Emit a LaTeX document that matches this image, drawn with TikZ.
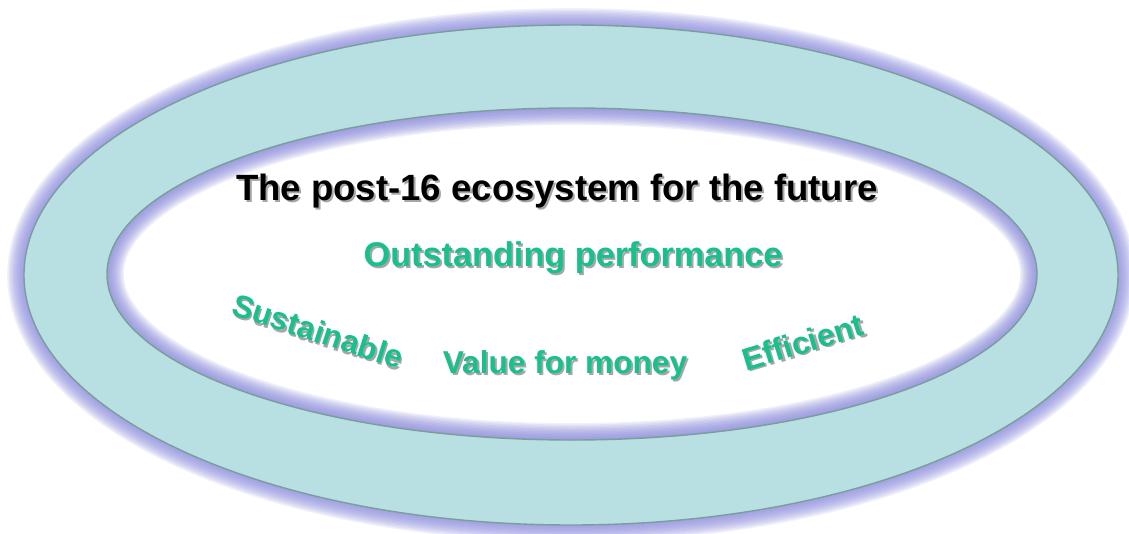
\documentclass[tikz,border=0pt]{standalone}
\usepackage{fontspec}
\setmainfont{Liberation Sans}
\usetikzlibrary{positioning}

\definecolor{ringfill}{HTML}{B8DFE2}
\definecolor{ringline}{HTML}{7A9E9A}
\definecolor{glow}{HTML}{8A8ADC}
\definecolor{aimgreen}{HTML}{17C08D}

\newcommand{\shtext}[1]{\makebox[0pt][l]{\hspace{1.1pt}\raisebox{-1.1pt}{\color{black!35}#1}}#1}

\tikzset{
  title/.style={font=\bfseries\fontsize{20.8}{24}\selectfont, text=black, inner sep=0pt},
  aim/.style={font=\bfseries\fontsize{18}{21}\selectfont, text=aimgreen, inner sep=0pt},
}

\begin{document}
\begin{tikzpicture}[x=0.02cm, y=-0.02cm]
\useasboundingbox (0,0) rectangle (1129,534);

\foreach \w in {1,...,12}
  \draw [glow, opacity=0.12, line width=\w*1.6] (571,275) ellipse [x radius=547, y radius=250];
\fill [ringfill] (571,275) ellipse [x radius=547, y radius=250];
\fill [white] (572,274) ellipse [x radius=465, y radius=166];

\begin{scope}
  \clip (572,274) ellipse [x radius=465, y radius=166];
  \foreach \w in {1,...,12}
    \draw [glow, opacity=0.12, line width=\w*1.6] (572,274) ellipse [x radius=465, y radius=166];
\end{scope}

\draw [ringline, line width=0.8pt] (571,275) ellipse [x radius=547, y radius=250];
\draw [ringline, line width=0.8pt] (572,274) ellipse [x radius=465, y radius=166];

\node [title] (ecosystem) at (557,192) {\shtext{The post-16 ecosystem for the future}};
\node [aim, font=\bfseries\fontsize{19.5}{22}\selectfont] (outstanding) at (573,259) {\shtext{Outstanding performance}};
\node [aim, rotate=-18] (sustainable) at (318,332) {\shtext{Sustainable}};
\node [aim] (value) at (565,366) {\shtext{Value for money}};
\node [aim, rotate=17] (efficient) at (803,343) {\shtext{Efficient}};

\end{tikzpicture}
\end{document}
